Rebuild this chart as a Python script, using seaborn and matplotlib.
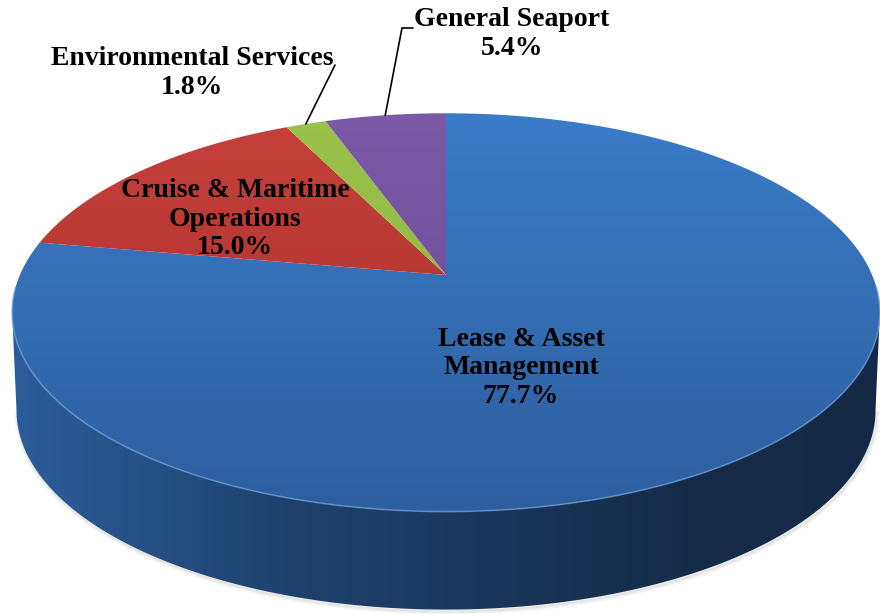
import numpy as np
import matplotlib
matplotlib.use("Agg")
import matplotlib.pyplot as plt
import seaborn as sns
from matplotlib.patches import Polygon
from matplotlib.colors import to_rgb

# ---------------- data ----------------
categories = ["Lease & Asset\nManagement", "Cruise & Maritime\nOperations",
              "Environmental Services", "General Seaport"]
shares = [77.7, 15.0, 1.8, 5.4]
pct_labels = ["77.7%", "15.0%", "1.8%", "5.4%"]
top_colors = ["#3b7bc8", "#c6403b", "#9bc34b", "#7c5aa8"]
low_colors = ["#2d5f9e", "#a52e2b", "#86ad3e", "#664390"]

# ---------------- style ----------------
sns.set_theme(style="white")
plt.rcParams['font.family'] = ['Liberation Serif', 'DejaVu Serif']

fig = plt.figure(figsize=(8.8, 6.14), dpi=100)
ax = fig.add_axes([0, 0, 1, 1])
ax.set_xlim(0, 880)
ax.set_ylim(614, 0)
ax.axis('off')

# ---------------- perspective camera (top face) ----------------
CX, CY = 446.0, 275.0
F = 2024.0
DIST = 4.75
PHI = np.radians(26.8)
DROP = 98.0      # thickness of the disc on screen
BSCALE = 0.99    # slight narrowing of the bottom rim
KPERS = np.cos(PHI) / DIST


def proj(theta):
    x = np.cos(theta)
    y = np.sin(theta)
    zv = DIST + y * np.cos(PHI)
    yv = y * np.sin(PHI)
    return CX + F * x / zv, CY - F * yv / zv


def proj_bottom(theta):
    px, py = proj(theta)
    return CX + (px - CX) * BSCALE, py + DROP


fr = np.array(shares, dtype=float) / np.sum(shares)
cum_deg = 360.0 * np.concatenate([[0], np.cumsum(fr)])   # clockwise from 12 o'clock
bounds = np.radians(90.0 - cum_deg)

# silhouette tangent points (left-most / right-most of the top rim)
tang = np.degrees(np.arcsin(KPERS))
vis_lo, vis_hi = 90.0 + tang, 270.0 - tang

# ---------------- soft shadow under the rim ----------------
th_all = np.radians(90.0 - np.linspace(vis_lo, vis_hi, 400))
bx, by = proj_bottom(th_all)
for lw, al in [(5, 0.04), (3, 0.06), (1.5, 0.08)]:
    ax.plot(bx + 1, by + 2, color="#666666", lw=lw, alpha=al, zorder=1,
            solid_capstyle="round")

# ---------------- side wall (visible front part), horizontal gradient ----------------
fac_t = [0, 0.33, 0.5, 0.8, 1.0]
fac_v = [0.98, 0.68, 0.6, 0.45, 0.44]
xs = np.linspace(0, 880, 400)
for k in range(len(shares)):
    lo = max(cum_deg[k], vis_lo)
    hi = min(cum_deg[k + 1], vis_hi)
    if hi <= lo:
        continue
    a = np.radians(90.0 - np.linspace(lo, hi, 400))
    tx, ty = proj(a)
    bx2, by2 = proj_bottom(a[::-1])
    pts = list(zip(tx, ty)) + list(zip(bx2, by2))
    patch = Polygon(pts, closed=True, facecolor="none", edgecolor="none", zorder=2)
    ax.add_patch(patch)
    fac = np.interp((xs - 10) / 870.0, fac_t, fac_v)
    base = np.array(to_rgb(low_colors[k]))
    img = np.clip(base[None, :] * fac[:, None], 0, 1)[None, :, :]
    im = ax.imshow(img, extent=(0, 880, 614, 0), aspect="auto",
                   interpolation="bilinear", zorder=2)
    im.set_clip_path(patch)

# ---------------- top face with vertical gradient ----------------
ytop = proj(np.pi / 2)[1]
ybot = proj(-np.pi / 2)[1]
for k in range(len(shares)):
    a0, a1 = bounds[k], bounds[k + 1]
    arc = np.linspace(a0, a1, max(int(abs(a1 - a0) / np.radians(0.5)), 4))
    ax_, ay_ = proj(arc)
    pts = [(CX, CY)] + list(zip(ax_, ay_))
    patch = Polygon(pts, closed=True, facecolor="none", edgecolor="none", zorder=3)
    ax.add_patch(patch)
    c0 = np.array(to_rgb(top_colors[k]))
    c1 = np.array(to_rgb(low_colors[k]))
    w = np.linspace(0, 1, 256)[:, None]
    grad = (c0[None, :] * (1 - w) + c1[None, :] * w)[:, None, :]
    im = ax.imshow(grad, extent=(0, 880, ybot, ytop), aspect="auto",
                   interpolation="bilinear", zorder=3)
    im.set_clip_path(patch)

# light rim on the front edge of the top face
front = np.linspace(np.pi * 1.02, np.pi * 1.98, 300)
fx, fy = proj(front)
ax.plot(fx, fy, color="#6a9ad8", lw=1.2, alpha=0.7, zorder=4)

ax.set_xlim(0, 880)
ax.set_ylim(614, 0)

# ---------------- labels ----------------
txt_kw = dict(fontsize=20, fontweight="bold", color="black", ha="center",
              va="center", linespacing=1.2, zorder=6)
label_pos = [(521, 368), (235, 219), (192, 73), (512, 34)]
for k in range(len(shares)):
    ax.text(label_pos[k][0], label_pos[k][1],
            categories[k] + "\n" + pct_labels[k], **txt_kw)

# leader lines for the two small slices
mid_env = (bounds[2] + bounds[3]) / 2
sx, sy = proj(mid_env)
ax.plot([sx, 335], [sy, 65], color="black", lw=1.2, zorder=5)
mid_gen = (bounds[3] + bounds[4]) / 2
sx, sy = proj(mid_gen)
ax.plot([sx, 402, 413], [sy, 28, 28], color="black", lw=1.2, zorder=5)

fig.savefig("out.png", dpi=100)
